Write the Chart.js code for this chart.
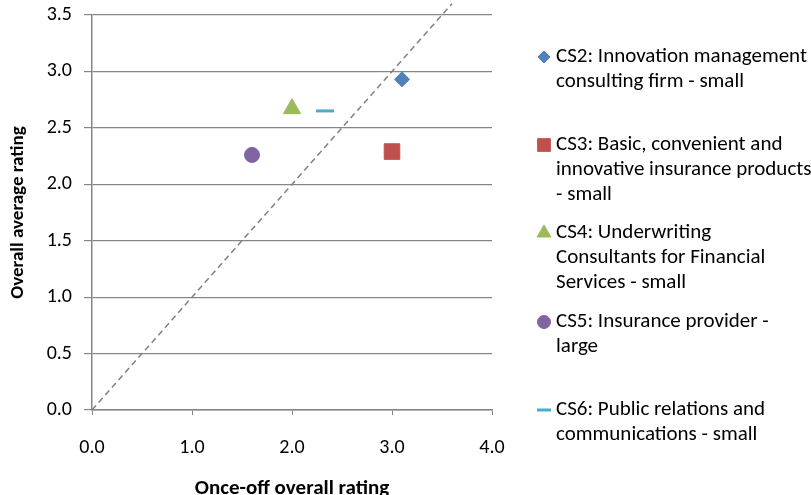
<!DOCTYPE html>
<html>
<head>
<meta charset="utf-8">
<script src="https://cdn.jsdelivr.net/npm/chart.js@4/dist/chart.umd.min.js"></script>
<style>
  html, body { margin: 0; padding: 0; background: #fff; }
  #wrap { position: relative; width: 811px; height: 495px; }
</style>
</head>
<body>
<div id="wrap"><canvas id="chart"></canvas></div>
<script>
// case studies: name (legend lines), once-off rating (x), overall average (y)
const seriesLines = [
    ['CS2: Innovation management', 'consulting firm - small'],
    ['CS3: Basic, convenient and', 'innovative insurance products', '- small'],
    ['CS4: Underwriting', 'Consultants for Financial', 'Services - small'],
    ['CS5: Insurance provider -', 'large'],
    ['CS6: Public relations and', 'communications - small']
];
const onceOffRating = [3.1, 3.0, 2.0, 1.6, 2.33];
const overallAverage = [2.93, 2.29, 2.67, 2.26, 2.65];
const seriesColors = ['#4F81BD', '#C0504D', '#9BBB59', '#8064A2', '#4BACC6'];
const pointStyles = ['rectRot', 'rect', 'triangle', 'circle', 'line'];
const pointSizes = [7.5, 11, 10, 7.5, 9];
const legendSizes = [6, 9, 8, 6.5, 7];
const legendTop = [57, 145, 233, 322, 410];

// y = x reference line
const refX = [0, 3.6];
const refY = [0, 3.6];

const FONT = "Carlito, 'Liberation Sans', sans-serif";
const axisGrey = '#868686';

const datasets = seriesLines.map((lines, i) => ({
    label: lines.join(' '),
    data: [{ x: onceOffRating[i], y: overallAverage[i] }],
    pointStyle: pointStyles[i],
    pointRadius: pointSizes[i],
    pointBackgroundColor: seriesColors[i],
    pointBorderColor: seriesColors[i],
    pointBorderWidth: pointStyles[i] === 'line' ? 3 : 1,
    showLine: false
}));

datasets.push({
    type: 'line',
    label: 'y = x',
    data: refX.map((x, i) => ({ x: x, y: refY[i] })),
    borderColor: '#808080',
    borderWidth: 1.5,
    borderDash: [6, 4],
    pointRadius: 0,
    clip: false,
    fill: false
});

// legend drawn on the canvas on the right side
const sideLegend = {
    id: 'sideLegend',
    afterDraw(chart) {
        const ctx = chart.ctx;
        ctx.save();
        ctx.font = '21px ' + FONT;
        ctx.textBaseline = 'middle';
        seriesLines.forEach((lines, i) => {
            const y0 = legendTop[i];
            ctx.fillStyle = seriesColors[i];
            ctx.strokeStyle = seriesColors[i];
            ctx.lineWidth = pointStyles[i] === 'line' ? 3 : 1;
            Chart.helpers.drawPoint(ctx, { pointStyle: pointStyles[i], radius: legendSizes[i], rotation: 0, borderWidth: ctx.lineWidth }, 544, y0);
            ctx.fillStyle = '#000';
            lines.forEach((t, j) => ctx.fillText(t, 556, y0 + j * 25));
        });
        ctx.restore();
    }
};

const ctx = document.getElementById('chart').getContext('2d');
const chart = new Chart(ctx, {
    type: 'scatter',
    data: { datasets: datasets },
    options: {
        responsive: true,
        maintainAspectRatio: false,
        animation: false,
        layout: { padding: { left: 0, top: 15, right: 319, bottom: 0 } },
        plugins: {
            legend: { display: false },
            tooltip: { enabled: false }
        },
        scales: {
            x: {
                type: 'linear',
                min: 0,
                max: 4,
                afterFit: s => { s.height = 85; s.paddingLeft = 0; s.paddingRight = 0; },
                ticks: {
                    stepSize: 1,
                    padding: 21,
                    color: '#000',
                    font: { family: FONT, size: 20 },
                    callback: v => v.toFixed(1)
                },
                grid: { drawOnChartArea: false, tickLength: 5, color: axisGrey, tickColor: axisGrey },
                border: { color: axisGrey, width: 1.5 },
                title: {
                    display: true,
                    text: 'Once-off overall rating',
                    color: '#000',
                    font: { family: FONT, size: 21, weight: 'bold' },
                    padding: { top: 0, bottom: -6 }
                }
            },
            y: {
                min: 0,
                max: 3.5,
                afterFit: s => { s.width = 92; s.paddingTop = 0; s.paddingBottom = 0; },
                ticks: {
                    stepSize: 0.5,
                    padding: 12,
                    color: '#000',
                    font: { family: FONT, size: 20 },
                    callback: v => v.toFixed(1)
                },
                grid: { color: axisGrey, tickColor: axisGrey, tickLength: 8, lineWidth: 1.2 },
                border: { color: axisGrey, width: 1.5 },
                title: {
                    display: true,
                    text: 'Overall average rating',
                    color: '#000',
                    font: { family: FONT, size: 19, weight: 'bold' },
                    padding: { top: 7, bottom: 0 }
                }
            }
        }
    },
    plugins: [sideLegend]
});

document.getElementById('wrap').style.height = '495px';
</script>
</body>
</html>
